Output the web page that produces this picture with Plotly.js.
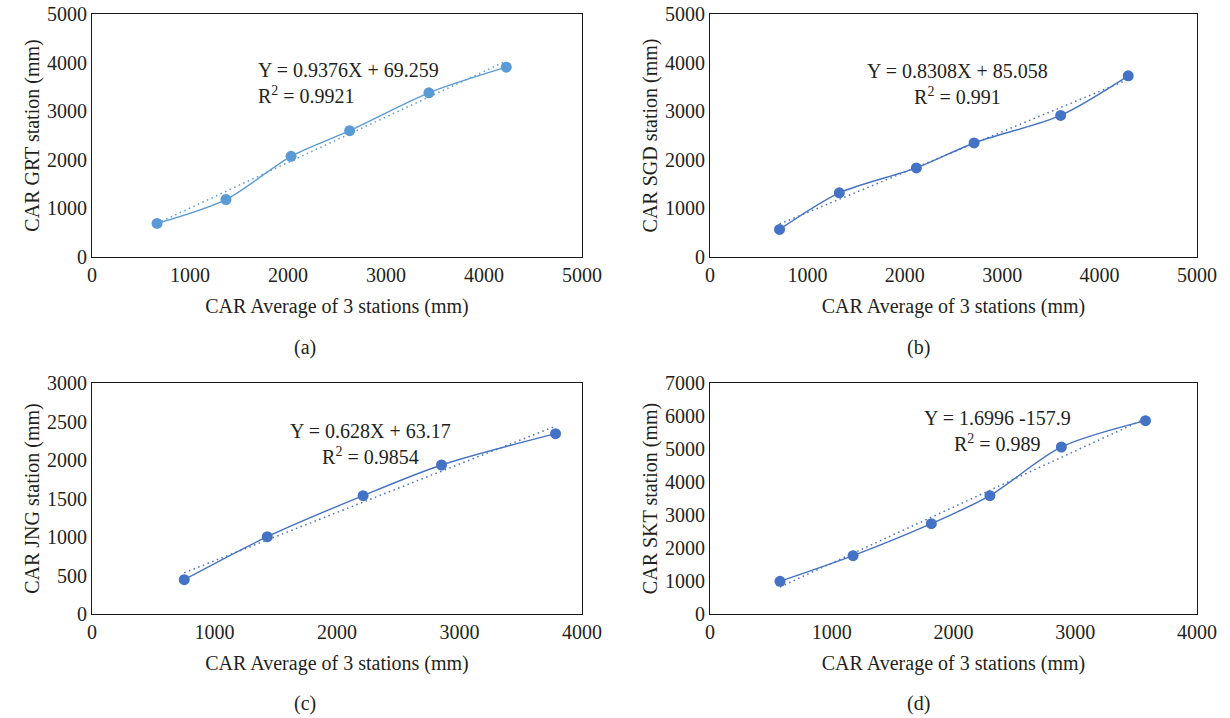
<!DOCTYPE html>
<html>
<head>
<meta charset="utf-8">
<script src="https://cdn.plot.ly/plotly-3.0.1.min.js"></script>
<style>html,body{margin:0;padding:0;background:#fff;}#chart{width:1230px;height:718px;}</style>
</head>
<body>
<div id="chart"></div>
<script>
// Panel (a) GRT
const xA = [664, 1367, 2031, 2629, 3438, 4227];
const yA = [691, 1183, 2072, 2599, 3379, 3906];
// Panel (b) SGD
const xB = [714, 1328, 2119, 2712, 3600, 4294];
const yB = [568, 1320, 1833, 2346, 2914, 3728];
// Panel (c) JNG
const xC = [753, 1431, 2213, 2853, 3784];
const yC = [446, 1004, 1537, 1935, 2342];
// Panel (d) SKT
const xD = [575, 1175, 1818, 2299, 2886, 3577];
const yD = [990, 1768, 2737, 3586, 5061, 5859];

// Trendline coefficients (slope, intercept) as printed
const slopes = [0.9376, 0.8308, 0.628, 1.6996];
const intercepts = [69.259, 85.058, 63.17, -157.9];

const eqTexts = [
  "Y = 0.9376X + 69.259<br>R<sup>2</sup> = 0.9921",
  "Y = 0.8308X + 85.058<br>R<sup>2</sup> = 0.991",
  "Y = 0.628X + 63.17<br>R<sup>2</sup> = 0.9854",
  "Y = 1.6996 -157.9<br>R<sup>2</sup> = 0.989"
];
const yTitles = ["CAR GRT station (mm)", "CAR SGD station (mm)", "CAR JNG station (mm)", "CAR SKT station (mm)"];
const xTitle = "CAR Average of 3 stations (mm)";
const panelLabels = ["(a)", "(b)", "(c)", "(d)"];
const xRanges = [[0, 5000], [0, 5000], [0, 4000], [0, 4000]];
const yRanges = [[0, 5000], [0, 5000], [0, 3000], [0, 7000]];
const yDtick = [1000, 1000, 500, 1000];

const colors = ["#5B9BD5", "#4472C4", "#4472C4", "#4472C4"];
const xs = [xA, xB, xC, xD];
const ys = [yA, yB, yC, yD];

const FONT = "Liberation Serif, Times New Roman, serif";
const TXT = "#231f20";
const FS = 20;

const W = 1230, H = 718;
const px = (a, b) => [a / W, b / W];
const py = (top, bottom) => [1 - bottom / H, 1 - top / H];
const xDom = [px(92, 582), px(710, 1197), px(92, 582), px(710, 1197)];
const yDom = [py(14, 257), py(14, 257), py(383, 614), py(383, 614)];

const traces = [];
const layout = {
  width: W, height: H,
  margin: {l: 0, r: 0, t: 0, b: 0},
  paper_bgcolor: "#fff", plot_bgcolor: "#fff",
  showlegend: false,
  font: {family: FONT, size: FS, color: TXT},
  annotations: []
};

for (let i = 0; i < 4; i++) {
  const ax = i === 0 ? "" : String(i + 1);
  const xa = "x" + ax, ya = "y" + ax;
  // trendline
  const xt = [xs[i][0], xs[i][xs[i].length - 1]];
  const yt = xt.map(v => slopes[i] * v + intercepts[i]);
  traces.push({
    x: xt, y: yt, xaxis: xa, yaxis: ya, type: "scatter", mode: "lines",
    line: {color: colors[i], width: 1.5, dash: "1.5px,3.5px"}, hoverinfo: "skip"
  });
  traces.push({
    x: xs[i], y: ys[i], xaxis: xa, yaxis: ya, type: "scatter", mode: "lines+markers",
    line: {color: colors[i], width: 1.4, shape: "spline", smoothing: 0.8},
    marker: {color: colors[i], size: 11}
  });
  layout["xaxis" + ax] = {
    domain: xDom[i], anchor: ya, range: xRanges[i], dtick: 1000, tick0: 0,
    showgrid: false, zeroline: false, showline: true, mirror: true,
    linecolor: "#1a1a1a", linewidth: 1, ticks: "",
    tickfont: {family: FONT, size: FS, color: TXT},
    title: {text: xTitle, font: {family: FONT, size: FS, color: TXT}, standoff: 13}
  };
  layout["yaxis" + ax] = {
    domain: yDom[i], anchor: xa, range: yRanges[i], dtick: yDtick[i], tick0: 0,
    showgrid: false, zeroline: false, showline: true, mirror: true,
    linecolor: "#1a1a1a", linewidth: 1, ticks: "",
    tickfont: {family: FONT, size: FS, color: TXT},
    title: {text: yTitles[i], font: {family: FONT, size: FS, color: TXT}, standoff: 2}
  };
}

// Equation annotations
const eqPos = [
  {x: 1672, y: 3580, xanchor: "left", align: "left"},
  {x: 2542, y: 3550, xanchor: "center", align: "center"},
  {x: 2275, y: 2210, xanchor: "center", align: "center"},
  {x: 2363, y: 5550, xanchor: "center", align: "center"}
];
for (let i = 0; i < 4; i++) {
  const ax = i === 0 ? "" : String(i + 1);
  layout.annotations.push({
    text: eqTexts[i], xref: "x" + ax, yref: "y" + ax,
    x: eqPos[i].x, y: eqPos[i].y, xanchor: eqPos[i].xanchor, yanchor: "middle",
    align: eqPos[i].align, showarrow: false,
    font: {family: FONT, size: FS, color: TXT}
  });
}
// Panel labels
const labPos = [[305, 347], [918, 347], [305, 703], [918, 703]];
for (let i = 0; i < 4; i++) {
  layout.annotations.push({
    text: panelLabels[i], xref: "paper", yref: "paper",
    x: labPos[i][0] / W, y: 1 - labPos[i][1] / H, xanchor: "center", yanchor: "middle",
    showarrow: false, font: {family: FONT, size: FS, color: TXT}
  });
}

Plotly.newPlot("chart", traces, layout, {displayModeBar: false, staticPlot: true});
</script>
</body>
</html>
